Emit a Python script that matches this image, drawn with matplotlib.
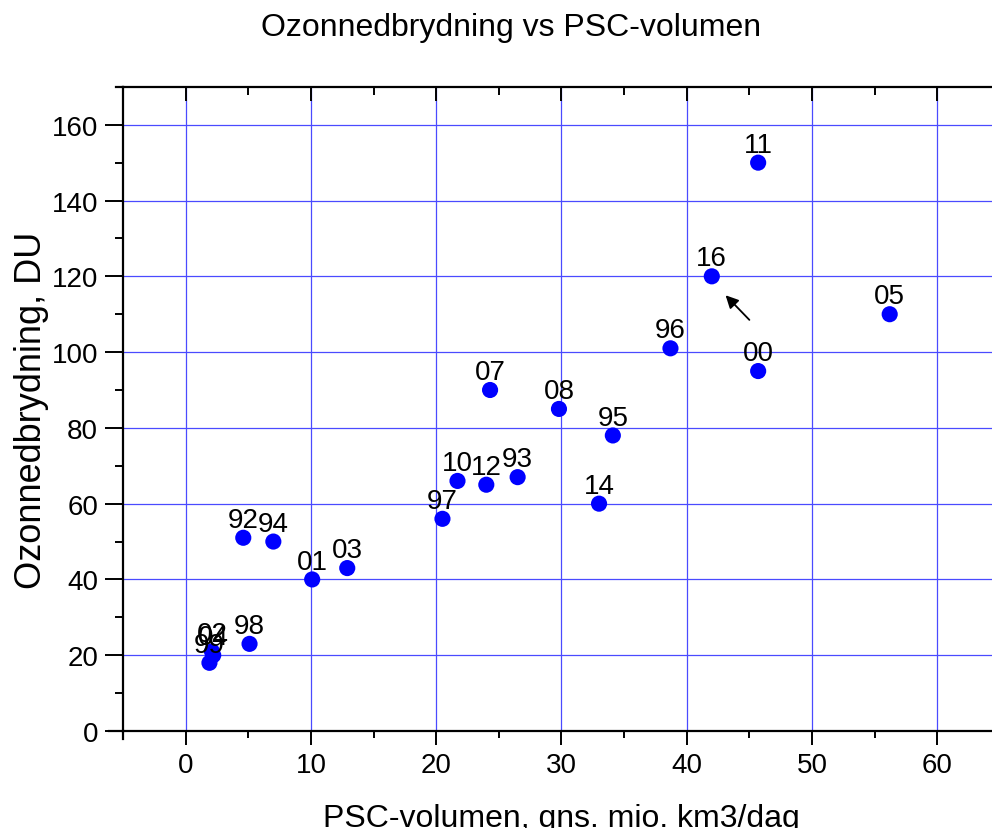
import matplotlib
matplotlib.use("Agg")
import matplotlib.pyplot as plt
from matplotlib.lines import Line2D

plt.rcParams['font.family'] = ['Liberation Sans', 'DejaVu Sans']

# PSC-volumen (gns. mio. km3/dag) og ozonnedbrydning (DU) pr. vinter
aar = ["92", "93", "94", "95", "96", "97", "98", "99", "00", "01", "02", "03",
       "04", "05", "07", "08", "10", "11", "12", "14", "16"]
psc = [4.6, 26.5, 7.0, 34.1, 38.7, 20.5, 5.1, 1.9, 45.7, 10.1, 2.1, 12.9,
       2.2, 56.2, 24.3, 29.8, 21.7, 45.7, 24.0, 33.0, 42.0]
ozon = [51, 67, 50, 78, 101, 56, 23, 18, 95, 40, 21, 43,
        20, 110, 90, 85, 66, 150, 65, 60, 120]

# pil mod 16
pil_fra = (45.0, 108.5)
pil_til = (43.1, 115.0)

fig = plt.figure(figsize=(9.92, 8.29), dpi=100)
ax = fig.add_axes([0.124, 0.117, 0.884, 0.777])

ax.scatter(psc, ozon, s=135, color='#0000ff', zorder=3, edgecolors='none')
for lbl, x, y in zip(aar, psc, ozon):
    ax.annotate(lbl, (x, y), xytext=(0, 3.5), textcoords='offset points',
                ha='center', va='bottom', fontsize=20, zorder=4)

ax.annotate('', xy=pil_til, xytext=pil_fra,
            arrowprops=dict(arrowstyle='-|>', color='black', lw=1.3,
                            mutation_scale=19, shrinkA=0, shrinkB=0))

ax.set_xlim(-5, 65)
ax.set_ylim(0, 170)
ax.set_xticks(range(0, 70, 10))
ax.set_xticks(range(-5, 66, 10), minor=True)
ax.set_yticks(range(0, 170, 20))
ax.set_yticks(range(10, 170, 20), minor=True)

ax.grid(True, which='major', color='#4a4aff', linewidth=0.9)
ax.set_axisbelow(True)

for side in ['left', 'bottom', 'top']:
    ax.spines[side].set_linewidth(1.6)
ax.spines['right'].set_visible(False)

ax.tick_params(axis='y', which='major', direction='out', length=13, width=1.4,
               labelsize=20, pad=5)
ax.tick_params(axis='y', which='minor', direction='out', length=6, width=1.4)
ax.tick_params(axis='x', which='major', direction='out', length=10, width=1.4,
               labelsize=20, pad=5, top=True)
ax.tick_params(axis='x', which='minor', direction='out', length=5, width=1.4, top=True)
# top ticks point inwards
for t in ax.xaxis.get_major_ticks():
    t.tick2line.set_marker(3)
    t.tick2line.set_markersize(10)
for t in ax.xaxis.get_minor_ticks():
    t.tick2line.set_marker(3)
    t.tick2line.set_markersize(6)

# small overhang of the axis lines (Origin style)
fig.add_artist(Line2D([0.110, 0.124], [0.117, 0.117], color='black', lw=1.6))
fig.add_artist(Line2D([0.124, 0.124], [0.107, 0.117], color='black', lw=1.6))
fig.add_artist(Line2D([0.117, 0.124], [0.894, 0.894], color='black', lw=1.6))

ax.set_xlabel("PSC-volumen, gns. mio. km3/dag", fontsize=23, labelpad=18)
ax.set_ylabel("Ozonnedbrydning, DU", fontsize=26, labelpad=2)
fig.text(0.515, 0.966, "Ozonnedbrydning vs PSC-volumen", ha='center', va='center',
         fontsize=23)

fig.savefig("out.png", dpi=100)
